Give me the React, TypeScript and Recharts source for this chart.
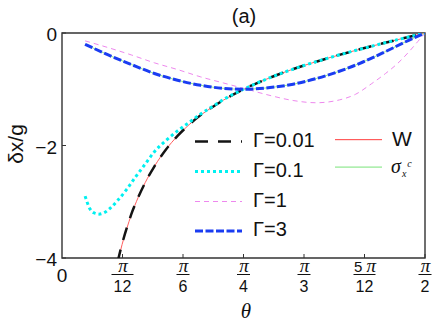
import React from 'react';
import { LineChart, Line, XAxis, YAxis, ReferenceArea } from 'recharts';

const WIDTH = 436;
const HEIGHT = 327;
const PLOT = { left: 62, top: 33, right: 425, bottom: 258 };
const SANS = '"Liberation Sans", Arial, sans-serif';
const SERIF = '"Liberation Serif", "Times New Roman", serif';

// x ticks: multiples of pi/12
const X_TICKS = [0, Math.PI / 12, Math.PI / 6, Math.PI / 4, Math.PI / 3, (5 * Math.PI) / 12, Math.PI / 2];
const X_TICK_NUM = ['0', 'π', 'π', 'π', 'π', '5 π', 'π'];
const X_TICK_DEN = ['', '12', '6', '4', '3', '12', '2'];
const Y_TICKS = [-4, -2, 0];
const Y_TICK_LABELS = ['−4', '−2', '0'];

// W (red) and Gamma = 0.01 (black, on top of W)
const THETA_W = [0.24, 0.26, 0.28, 0.3, 0.33, 0.36, 0.4, 0.45, 0.5, 0.55, 0.6, 0.65, 0.7, 0.785, 0.85, 0.95, 1.05, 1.15, 1.25, 1.35, 1.45, 1.571];
const W_VALUES = [-4.09, -3.76, -3.48, -3.23, -2.92, -2.66, -2.37, -2.07, -1.83, -1.63, -1.46, -1.32, -1.19, -1.0, -0.88, -0.715, -0.574, -0.448, -0.332, -0.224, -0.121, 0];
const G001_VALUES = [-4.08, -3.75, -3.47, -3.22, -2.92, -2.66, -2.37, -2.07, -1.83, -1.63, -1.46, -1.32, -1.19, -1.0, -0.88, -0.715, -0.574, -0.448, -0.332, -0.224, -0.121, 0];

// Gamma = 0.1 (cyan dotted)
const THETA_G01 = [0.1, 0.12, 0.14, 0.16, 0.18, 0.21, 0.24, 0.28, 0.32, 0.36, 0.4, 0.45, 0.5, 0.55, 0.6, 0.65, 0.7, 0.785, 0.85, 0.95, 1.05, 1.15, 1.25, 1.35, 1.45, 1.571];
const G01_VALUES = [-2.9, -3.12, -3.2, -3.22, -3.2, -3.11, -2.98, -2.78, -2.55, -2.33, -2.11, -1.91, -1.74, -1.59, -1.44, -1.31, -1.18, -1.0, -0.88, -0.715, -0.574, -0.448, -0.332, -0.224, -0.121, 0];

// Gamma = 1 (violet thin dashed)
const THETA_G1 = [0.1, 0.2, 0.3, 0.4, 0.5, 0.6, 0.7, 0.8, 0.9, 1.0, 1.1, 1.2, 1.27, 1.34, 1.4, 1.45, 1.5, 1.54, 1.571];
const G1_VALUES = [-0.14, -0.26, -0.39, -0.53, -0.65, -0.78, -0.89, -1.0, -1.11, -1.2, -1.24, -1.19, -1.09, -0.9, -0.72, -0.55, -0.34, -0.15, 0];

// Gamma = 3 (blue dashed) and sigma_x^c (green, underneath)
const THETA_G3 = [0.1, 0.2, 0.3, 0.4, 0.5, 0.6, 0.7, 0.785, 0.9, 1.0, 1.1, 1.2, 1.3, 1.4, 1.5, 1.571];
const G3_VALUES = [-0.2, -0.39, -0.56, -0.72, -0.84, -0.93, -0.985, -1.0, -0.97, -0.91, -0.81, -0.68, -0.52, -0.33, -0.13, 0];
const SIGMA_VALUES = [-0.2, -0.39, -0.56, -0.72, -0.84, -0.93, -0.985, -1.0, -0.97, -0.91, -0.81, -0.68, -0.52, -0.33, -0.13, 0];

const toPoints = (xs: number[], ys: number[]) => xs.map((x, i) => ({ x, y: ys[i] }));

const COLORS = {
  w: '#ff5c5c',
  sigma: '#8fe88f',
  g001: '#141414',
  g01: '#00f0f0',
  g1: '#ee88ee',
  g3: '#1a3cf2',
  axis: '#333',
};

const XTick = ({ x, index }: any) => {
  const num = X_TICK_NUM[index];
  const den = X_TICK_DEN[index];
  if (!den) {
    return (
      <text x={x} y={282} textAnchor="middle" fontSize={19} fontFamily={SANS} fill="#111">
        {num}
      </text>
    );
  }
  const barW = den.length > 1 || num.length > 1 ? 22 : 13;
  return (
    <g>
      <line x1={x} x2={x} y1={PLOT.bottom} y2={PLOT.bottom - 4} stroke={COLORS.axis} strokeWidth={1} />
      <text x={x + 0.5} y={272} textAnchor="middle" fill="#111">
        {num.length > 1 ? (
          <>
            <tspan fontFamily={SANS} fontSize={15}>5 </tspan>
            <tspan fontFamily={SERIF} fontStyle="italic" fontSize={19}>π</tspan>
          </>
        ) : (
          <tspan fontFamily={SERIF} fontStyle="italic" fontSize={19}>π</tspan>
        )}
      </text>
      <line x1={x - barW / 2} x2={x + barW / 2} y1={274.5} y2={274.5} stroke="#111" strokeWidth={1} />
      <text x={x} y={292} textAnchor="middle" fontSize={16} fontFamily={SANS} fill="#111">
        {den}
      </text>
    </g>
  );
};

const YTick = ({ y, index }: any) => (
  <g>
    <line x1={PLOT.left} x2={PLOT.left + 4} y1={y} y2={y} stroke={COLORS.axis} strokeWidth={1} />
    <text x={57} y={y + 8} textAnchor="end" fontSize={19} fontFamily={SANS} fill="#111">
      {Y_TICK_LABELS[index]}
    </text>
  </g>
);

const LEFT_LEGEND = [
  { label: 'Γ=0.01', color: COLORS.g001, dash: '13 10', width: 2.5, y: 141.5 },
  { label: 'Γ=0.1', color: COLORS.g01, dash: '3 3', width: 3, y: 171.5 },
  { label: 'Γ=1', color: COLORS.g1, dash: '5 4', width: 1, y: 201.5 },
  { label: 'Γ=3', color: COLORS.g3, dash: '8 2.5', width: 3, y: 231 },
];

const Overlay = () => (
  <svg
    width={WIDTH}
    height={HEIGHT}
    style={{ position: 'absolute', left: 0, top: 0, pointerEvents: 'none' }}
  >
    <text x={244} y={23} textAnchor="middle" fontSize={20} fontFamily={SANS} fill="#111">
      (a)
    </text>
    <text
      x={0}
      y={0}
      transform="translate(23,144) rotate(-90)"
      textAnchor="middle"
      fontSize={21}
      fontFamily={SANS}
      fill="#111"
    >
      δx/g
    </text>
    <text x={246} y={318} textAnchor="middle" fontSize={21} fontFamily={SERIF} fontStyle="italic" fill="#111">
      θ
    </text>

    {LEFT_LEGEND.map((r) => (
      <g key={r.label}>
        <line x1={195} x2={242} y1={r.y} y2={r.y} stroke={r.color} strokeWidth={r.width} strokeDasharray={r.dash} />
        <text x={253} y={r.y + 5} fontSize={20} fontFamily={SANS} fill="#111">
          {r.label}
        </text>
      </g>
    ))}

    <rect x={335} y={139} width={47} height={1.2} fill={COLORS.w} />
    <text x={392} y={146} fontSize={21} fontFamily={SANS} fill="#111">
      W
    </text>
    <rect x={335} y={166.5} width={47} height={1.2} fill={COLORS.sigma} />
    <text x={391} y={173} fontSize={20} fontFamily={SERIF} fontStyle="italic" fill="#111">
      σ
      <tspan fontSize={10} dx={1} dy={4}>x</tspan>
      <tspan fontSize={10} dx={1} dy={-10}>c</tspan>
    </text>
  </svg>
);

export default function App() {
  return (
    <div style={{ position: 'absolute', left: 0, top: 0, width: WIDTH, height: HEIGHT, background: '#fff' }}>
      <LineChart
        width={WIDTH}
        height={HEIGHT}
        margin={{ top: PLOT.top, right: WIDTH - PLOT.right, left: 0, bottom: 0 }}
      >
        <XAxis
          type="number"
          dataKey="x"
          domain={[0, Math.PI / 2]}
          ticks={X_TICKS}
          interval={0}
          height={HEIGHT - PLOT.bottom}
          axisLine={false}
          tickLine={false}
          tick={<XTick />}
          allowDataOverflow
        />
        <YAxis
          type="number"
          dataKey="y"
          domain={[-4, 0]}
          ticks={Y_TICKS}
          interval={0}
          width={PLOT.left}
          axisLine={false}
          tickLine={false}
          tick={<YTick />}
          allowDataOverflow
        />
        <Line data={toPoints(THETA_W, W_VALUES)} dataKey="y" type="monotone" stroke={COLORS.w} strokeWidth={1} dot={false} isAnimationActive={false} />
        <Line data={toPoints(THETA_G3, SIGMA_VALUES)} dataKey="y" type="monotone" stroke={COLORS.sigma} strokeWidth={1} dot={false} isAnimationActive={false} />
        <Line data={toPoints(THETA_G1, G1_VALUES)} dataKey="y" type="monotone" stroke={COLORS.g1} strokeWidth={1} strokeDasharray="5 4" dot={false} isAnimationActive={false} />
        <Line data={toPoints(THETA_W, G001_VALUES)} dataKey="y" type="monotone" stroke={COLORS.g001} strokeWidth={2.5} strokeDasharray="13 10" dot={false} isAnimationActive={false} />
        <Line data={toPoints(THETA_G01, G01_VALUES)} dataKey="y" type="monotone" stroke={COLORS.g01} strokeWidth={3} strokeDasharray="3 3" dot={false} isAnimationActive={false} />
        <Line data={toPoints(THETA_G3, G3_VALUES)} dataKey="y" type="monotone" stroke={COLORS.g3} strokeWidth={3} strokeDasharray="8 2.5" dot={false} isAnimationActive={false} />
        <ReferenceArea x1={0} x2={Math.PI / 2} y1={-4} y2={0} fill="none" stroke={COLORS.axis} strokeWidth={1.4} ifOverflow="extendDomain" />
      </LineChart>
      <Overlay />
    </div>
  );
}
